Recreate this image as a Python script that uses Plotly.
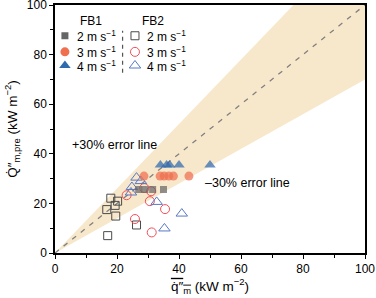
import plotly.graph_objects as go

# ---------------- data ----------------
fb1_2_x = [27, 29, 31.5, 35]
fb1_2_y = [25.6, 25.6, 25.6, 25.6]
fb1_3_x = [28.7, 33.9, 35.2, 36.7, 38.2, 43.2]
fb1_3_y = [31, 31, 31, 31, 31, 31]
fb1_4_x = [34, 36, 37, 40, 50]
fb1_4_y = [35.5, 35.5, 35.5, 35.5, 35.5]

fb2_2_x = [16.7, 18.0, 19.4, 20.2, 19.6, 26.3, 17.0]
fb2_2_y = [17.5, 22.1, 19.2, 20.9, 14.9, 11.3, 7.0]
fb2_3_x = [23.1, 28.8, 31.0, 30.6, 35.5, 25.8, 31.2]
fb2_3_y = [23.3, 26.2, 24.9, 20.9, 17.7, 13.7, 8.3]
fb2_4_x = [26.3, 27.7, 24.8, 24.5, 32.8, 40.9, 35.3]
fb2_4_y = [30.4, 29.0, 26.6, 24.4, 20.6, 15.9, 9.9]

line_x = [0, 100]
ratio_up = 1.3
ratio_lo = 0.7

legend_labels = ["2 m s<sup>\u22121</sup>", "3 m s<sup>\u22121</sup>", "4 m s<sup>\u22121</sup>"]
groups = ["FB1", "FB2"]
tick_vals = [0, 20, 40, 60, 80, 100]

FONT = "Liberation Sans, Arial, Helvetica, sans-serif"
GRAY = "#666666"
ORANGE = "#ef6f4f"
BLUE = "#2f6aad"
DGRAY = "#4a4a4a"
RED = "#f0505a"
LBLUE = "#5a78c4"
BAND = "#f8e8cb"

fig = go.Figure()

# error band: between 0.7x and 1.3x
fig.add_trace(go.Scatter(x=line_x, y=[v * ratio_lo for v in line_x], mode="lines",
                         line=dict(width=0), showlegend=False, hoverinfo="skip"))
fig.add_trace(go.Scatter(x=[0, 100 / ratio_up, 100], y=[0, 100, 100], mode="lines",
                         line=dict(width=0), fill="tonexty", fillcolor=BAND,
                         showlegend=False, hoverinfo="skip"))
# 1:1 line
fig.add_trace(go.Scatter(x=line_x, y=line_x, mode="lines",
                         line=dict(color="#808080", width=1.3, dash="5px,6px"),
                         showlegend=False, hoverinfo="skip"))

series = [
    (fb2_2_x, fb2_2_y, "square-open", DGRAY, 8),
    (fb2_3_x, fb2_3_y, "circle-open", RED, 9),
    (fb2_4_x, fb2_4_y, "triangle-up-open", LBLUE, 10),
    (fb1_2_x, fb1_2_y, "square", GRAY, 7),
    (fb1_3_x, fb1_3_y, "circle", ORANGE, 9),
    (fb1_4_x, fb1_4_y, "triangle-up", BLUE, 10),
]
for xs, ys, sym, col, sz in series:
    filled = "open" not in sym
    fig.add_trace(go.Scatter(
        x=xs, y=ys, mode="markers", showlegend=False,
        marker=dict(symbol=sym, size=sz, color=col,
                    opacity=0.72 if filled else 1.0,
                    line=dict(width=0 if filled else 1, color=col))))

# legend keys on a hidden overlay axis (0-1 scale)
leg_rows = [0.876, 0.811, 0.756]
leg_cols = [0.032, 0.258]
leg_sym = [["square", "circle", "triangle-up"],
           ["square-open", "circle-open", "triangle-up-open"]]
leg_col = [[GRAY, ORANGE, BLUE], [DGRAY, RED, LBLUE]]
leg_size = [[7, 9, 10], [8, 9, 10]]
for c in range(2):
    for r in range(3):
        sym = leg_sym[c][r]
        filled = "open" not in sym
        fig.add_trace(go.Scatter(
            x=[leg_cols[c]], y=[leg_rows[r]], xaxis="x2", yaxis="y2",
            mode="markers", showlegend=False, hoverinfo="skip",
            marker=dict(symbol=sym, size=leg_size[c][r], color=leg_col[c][r],
                        line=dict(width=0 if filled else 1, color=leg_col[c][r]))))
        fig.add_annotation(x=leg_cols[c] + 0.033, y=leg_rows[r], xref="paper", yref="paper",
                           text=legend_labels[r], showarrow=False, xanchor="left",
                           yanchor="middle", font=dict(size=12, color="black", family=FONT))
fig.add_annotation(x=0.116, y=0.935, xref="paper", yref="paper", text=groups[0],
                   showarrow=False, xanchor="center", yanchor="middle",
                   font=dict(size=12, color="black", family=FONT))
fig.add_annotation(x=0.315, y=0.935, xref="paper", yref="paper", text=groups[1],
                   showarrow=False, xanchor="center", yanchor="middle",
                   font=dict(size=12, color="black", family=FONT))
fig.add_shape(type="line", xref="paper", yref="paper", x0=0.218, x1=0.218, y0=0.727, y1=0.896,
              line=dict(color="#555555", width=1.2, dash="4px,4px"))

fig.add_annotation(x=4.8, y=43.5, text="+30% error line", showarrow=False,
                   xanchor="left", yanchor="middle",
                   font=dict(size=12.5, color="black", family=FONT))
fig.add_annotation(x=47.7, y=28.2, text="\u201330% error line", showarrow=False,
                   xanchor="left", yanchor="middle",
                   font=dict(size=12.5, color="black", family=FONT))

axis_common = dict(range=[0, 100], tickvals=tick_vals, ticks="outside", ticklen=4, tickwidth=1.2,
                   tickcolor="black", showgrid=False, zeroline=False, showline=True,
                   linecolor="black", linewidth=1.5, mirror=True, ticklabeloverflow="allow",
                   tickfont=dict(size=12, color="black", family=FONT),
                   minor=dict(ticks="outside", ticklen=3, tickwidth=1.2, tickcolor="black",
                              dtick=10, showgrid=False))

fig.update_layout(
    width=376, height=298,
    margin=dict(l=55, r=11, t=5, b=45, autoexpand=False),
    paper_bgcolor="white", plot_bgcolor="white",
    font=dict(family=FONT, size=12, color="black"),
    xaxis=dict(axis_common,
               title=dict(text="<span style='text-decoration:overline'>q\u0307\u2033<sub>m</sub></span> (kW m<sup>\u22122</sup>)",
                          font=dict(size=13.5, family=FONT), standoff=5)),
    yaxis=dict(axis_common,
               title=dict(text="Q\u0307\u2033<sub>m,pre</sub> (kW m<sup>\u22122</sup>)",
                          font=dict(size=13.5, family=FONT), standoff=6)),
    xaxis2=dict(range=[0, 1], overlaying="x", visible=False),
    yaxis2=dict(range=[0, 1], overlaying="y", visible=False),
)

fig.write_html("out.html", config={"displayModeBar": False},
               post_script="document.body.style.margin='0';document.body.style.overflow='hidden';")
